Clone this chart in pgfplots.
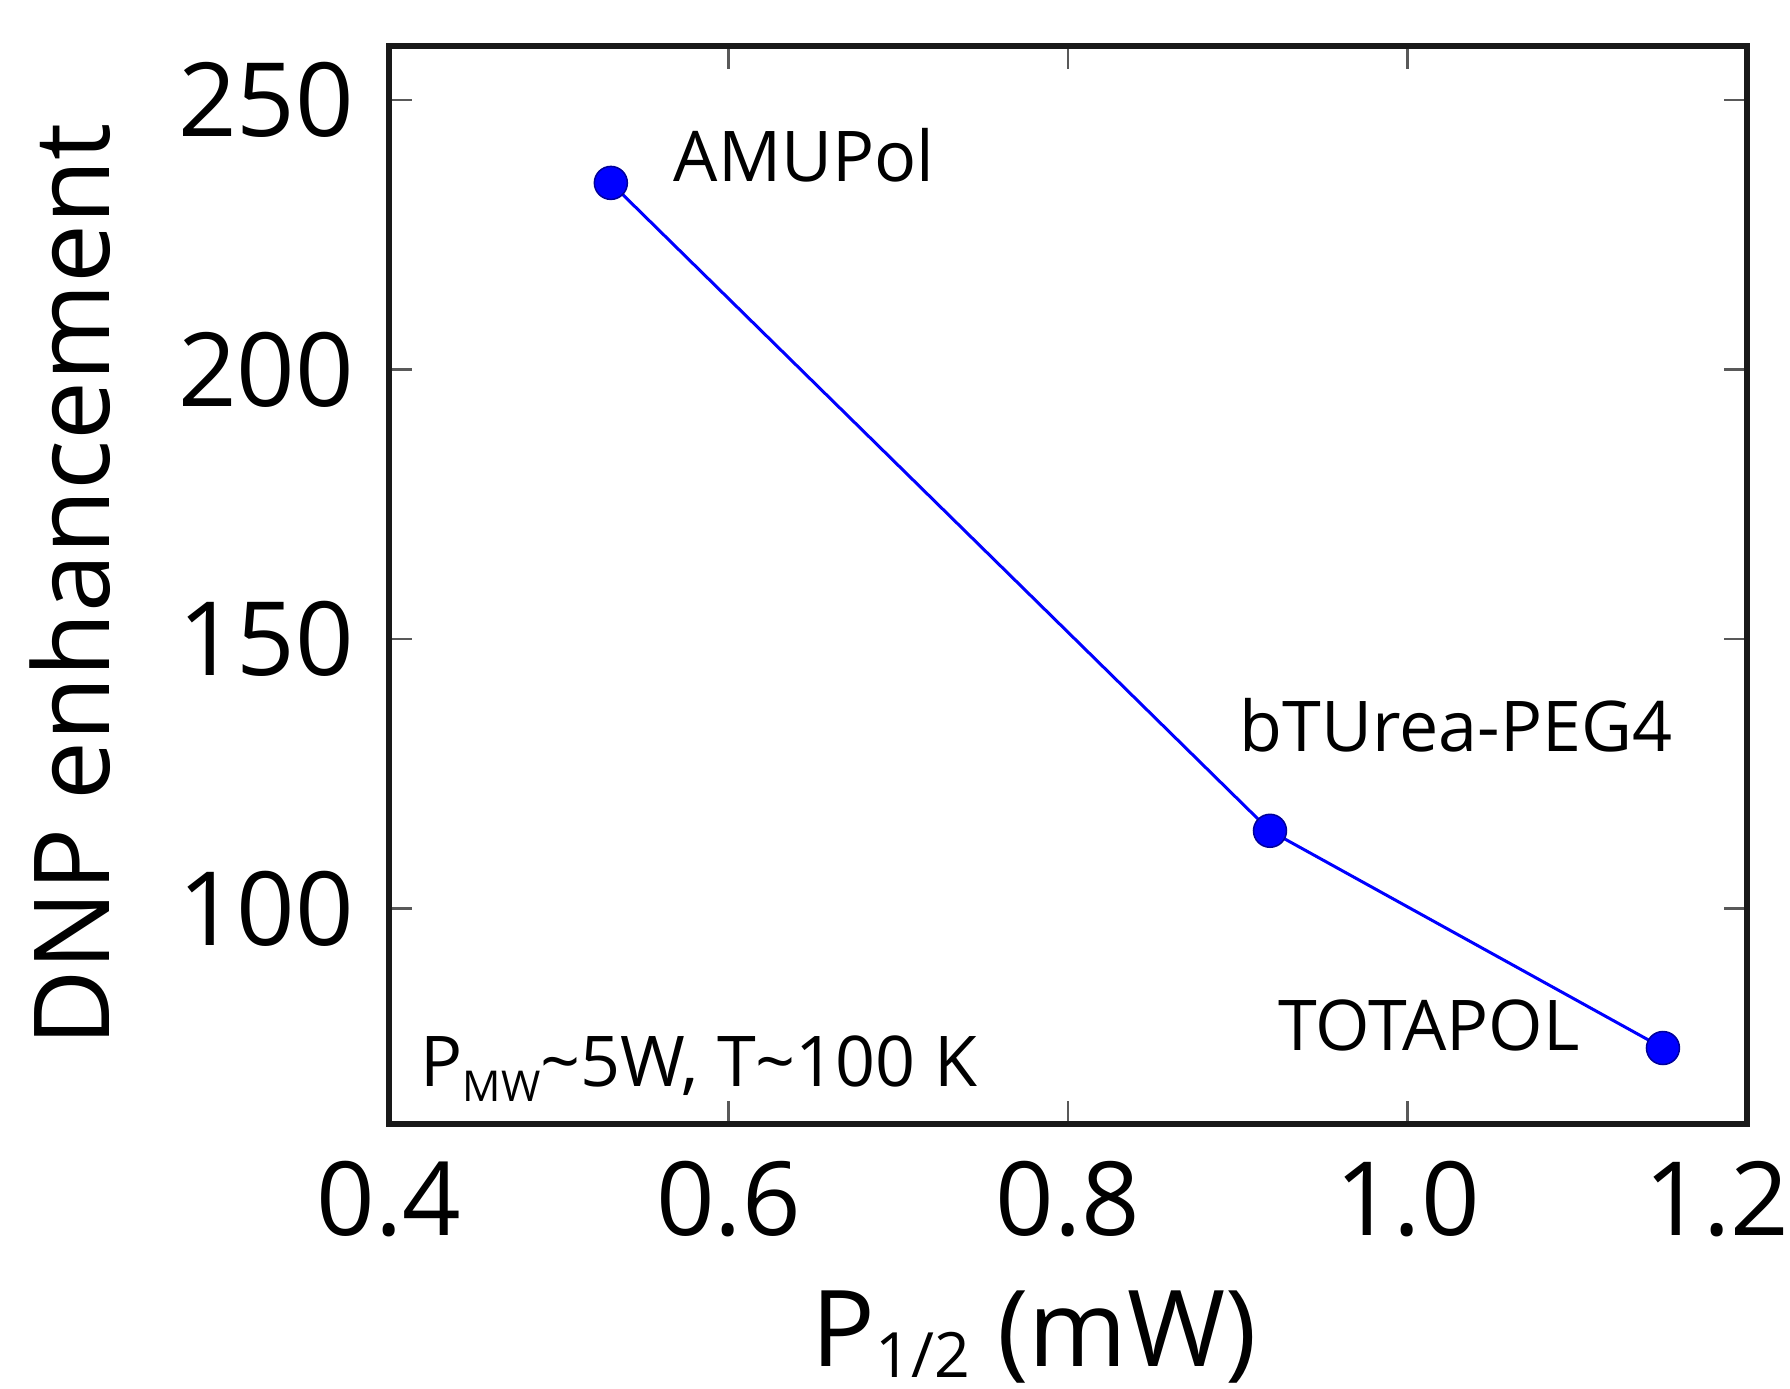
\documentclass[border=0pt]{standalone}
\usepackage{pgfplots}
\pgfplotsset{compat=1.18}
\usepackage{fontspec}
\setmainfont{Open Sans}
\newcommand{\sub}[3][-0.22em]{\raisebox{#1}{\fontsize{#2}{#2}\selectfont #3}}
\begin{document}
\begin{tikzpicture}
\useasboundingbox (-77.8pt,-53pt) rectangle (280.2pt,224.8pt);
\begin{axis}[
  at={(0,0)}, anchor=south west,
  scale only axis,
  width=271.6pt, height=215.6pt,
  xmin=0.4, xmax=1.2, ymin=60, ymax=260,
  xtick={0.4,0.6,0.8,1.0,1.2},
  ytick={100,150,200,250},
  xticklabels={0.4,0.6,0.8,1.0,{\kern-12pt 1.2}},
  yticklabels={100,150,200,250},
  tick align=inside,
  major tick length=4.6pt,
  every tick/.style={black!65, line width=0.5pt},
  axis line style={line width=1.1pt, black!90},
  /pgf/number format/assume math mode=true,
  every x tick label/.style={anchor=north, inner sep=0pt, yshift=-7.2pt, font=\fontsize{20.5}{24}\selectfont},
  every y tick label/.style={anchor=east, inner sep=0pt, xshift=-6.8pt, font=\fontsize{20.5}{24}\selectfont},
  every axis x label/.style={at={([xshift=84.3pt,yshift=-48.5pt]axis description cs:0,0)}, anchor=base west, inner sep=0pt, font=\fontsize{21.2}{24}\selectfont},
  every axis y label/.style={at={([xshift=-55.8pt]axis description cs:0,0.5)}, anchor=base, rotate=90, inner sep=0pt, font=\fontsize{21}{24}\selectfont},
  xlabel={P\sub[-0.1em]{12.5}{1/2} (mW)},
  ylabel={DNP enhancement},
  clip=false,
]
\addplot[blue, line width=0.6pt, mark=*, mark size=3.3pt, mark options={fill=blue, draw=blue!60!black, line width=0.3pt}]
  coordinates {(0.5307,234.6) (0.919,114.4) (1.1505,74.1)};
\node[anchor=base west, inner sep=0pt, font=\fontsize{14}{16}\selectfont] at (axis cs:0.5673,234.8) {AMUPol};
\node[anchor=base west, inner sep=0pt, font=\fontsize{14}{16}\selectfont] at (axis cs:0.9005,129.1) {bTUrea-PEG4};
\node[anchor=base west, inner sep=0pt, font=\fontsize{14}{16}\selectfont] at (axis cs:0.9234,73.7) {TOTAPOL};
\node[anchor=base west, inner sep=0pt, font=\fontsize{14}{16}\selectfont] at (axis cs:0.418,67.0) {P\sub{8.5}{MW}\textasciitilde5W, T\textasciitilde100 K};
\end{axis}
\end{tikzpicture}
\end{document}
